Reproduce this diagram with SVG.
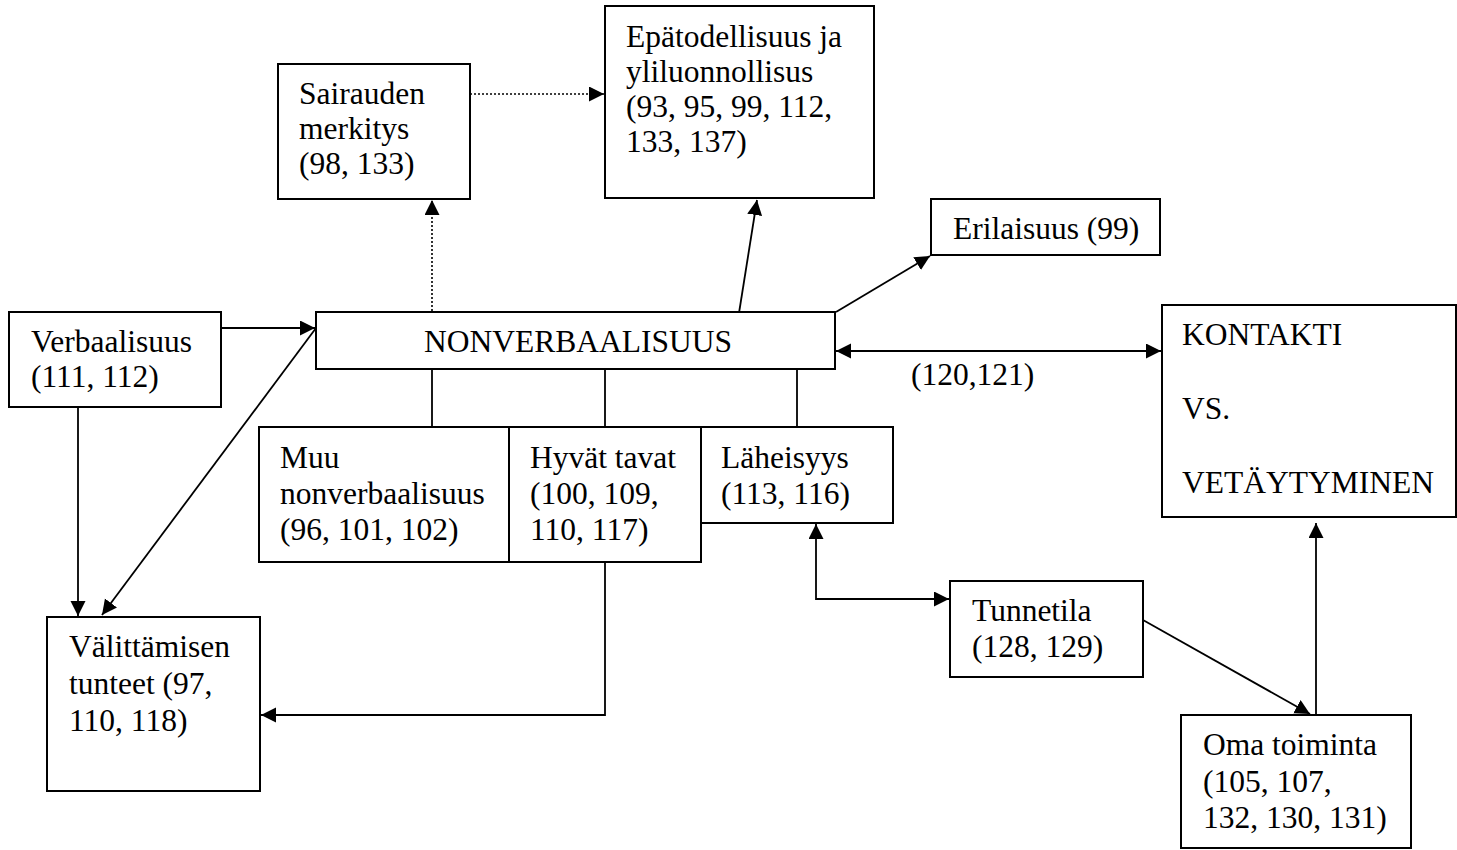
<svg xmlns="http://www.w3.org/2000/svg" width="1457" height="850" viewBox="0 0 1457 850">
  <style>
    .box { fill: #fff; stroke: #000; stroke-width: 2; }
    .lbl { font-family: "Liberation Serif", "Times New Roman", serif; font-size: 31.5px; fill: #000; }
    .ln { fill: none; stroke: #000; stroke-width: 1.8; }
    .dot { fill: none; stroke: #000; stroke-width: 1.6; stroke-dasharray: 2 2; }
  </style>
  <defs>
    <marker id="ah" markerUnits="userSpaceOnUse" markerWidth="16" markerHeight="16" refX="15" refY="7.5" orient="auto-start-reverse">
      <path d="M0,0 L15,7.5 L0,15 Z" fill="#000"/>
    </marker>
  </defs>
  <rect width="1457" height="850" fill="#fff"/>

  <!-- connectors -->
  <g id="connectors">
    <line class="dot" x1="470" y1="94" x2="604" y2="94" marker-end="url(#ah)"/>
    <line class="dot" x1="432" y1="311" x2="432" y2="200" marker-end="url(#ah)"/>
    <line class="ln" x1="739" y1="313" x2="757" y2="200" marker-end="url(#ah)"/>
    <line class="ln" x1="836" y1="312" x2="930" y2="256" marker-end="url(#ah)"/>
    <line class="ln" x1="836" y1="351" x2="1161" y2="351" marker-start="url(#ah)" marker-end="url(#ah)"/>
    <line class="ln" x1="221" y1="328" x2="315" y2="328" marker-end="url(#ah)"/>
    <line class="ln" x1="78" y1="407" x2="78" y2="616" marker-end="url(#ah)"/>
    <line class="ln" x1="316" y1="328" x2="102" y2="615" marker-end="url(#ah)"/>
    <line class="ln" x1="432" y1="369" x2="432" y2="427"/>
    <line class="ln" x1="605" y1="369" x2="605" y2="427"/>
    <line class="ln" x1="797" y1="369" x2="797" y2="427"/>
    <polyline class="ln" points="605,562 605,715 261,715" marker-end="url(#ah)"/>
    <polyline class="ln" points="816,524 816,599 949,599" marker-start="url(#ah)" marker-end="url(#ah)"/>
    <line class="ln" x1="1143" y1="620" x2="1310" y2="714" marker-end="url(#ah)"/>
    <line class="ln" x1="1316" y1="715" x2="1316" y2="523" marker-end="url(#ah)"/>
    <text class="lbl" x="911" y="385">(120,121)</text>
  </g>

  <g id="sairauden">
    <rect class="box" x="278" y="64" width="192" height="135"/>
    <text class="lbl" x="299" y="104">Sairauden</text>
    <text class="lbl" x="299" y="139">merkitys</text>
    <text class="lbl" x="299" y="174">(98, 133)</text>
  </g>

  <g id="epatodellisuus">
    <rect class="box" x="605" y="6" width="269" height="192"/>
    <text class="lbl" x="626" y="47">Epätodellisuus ja</text>
    <text class="lbl" x="626" y="82">yliluonnollisus</text>
    <text class="lbl" x="626" y="117">(93, 95, 99, 112,</text>
    <text class="lbl" x="626" y="152">133, 137)</text>
  </g>

  <g id="erilaisuus">
    <rect class="box" x="931" y="199" width="229" height="56"/>
    <text class="lbl" x="953" y="239">Erilaisuus (99)</text>
  </g>

  <g id="nonverbaalisuus">
    <rect class="box" x="316" y="312" width="519" height="57"/>
    <text class="lbl" x="578" y="352" text-anchor="middle">NONVERBAALISUUS</text>
  </g>

  <g id="kontakti">
    <rect class="box" x="1162" y="305" width="294" height="212"/>
    <text class="lbl" x="1182" y="345">KONTAKTI</text>
    <text class="lbl" x="1182" y="419">VS.</text>
    <text class="lbl" x="1182" y="493">VETÄYTYMINEN</text>
  </g>

  <g id="verbaalisuus">
    <rect class="box" x="9" y="312" width="212" height="95"/>
    <text class="lbl" x="31" y="352">Verbaalisuus</text>
    <text class="lbl" x="31" y="387">(111, 112)</text>
  </g>

  <g id="muu">
    <rect class="box" x="259" y="427" width="250" height="135"/>
    <text class="lbl" x="280" y="468">Muu</text>
    <text class="lbl" x="280" y="504">nonverbaalisuus</text>
    <text class="lbl" x="280" y="540">(96, 101, 102)</text>
  </g>

  <g id="hyvat">
    <rect class="box" x="509" y="427" width="192" height="135"/>
    <text class="lbl" x="530" y="468">Hyvät tavat</text>
    <text class="lbl" x="530" y="504">(100, 109,</text>
    <text class="lbl" x="530" y="540">110, 117)</text>
  </g>

  <g id="laheisyys">
    <rect class="box" x="701" y="427" width="192" height="96"/>
    <text class="lbl" x="721" y="468">Läheisyys</text>
    <text class="lbl" x="721" y="504">(113, 116)</text>
  </g>

  <g id="valittamisen">
    <rect class="box" x="47" y="617" width="213" height="174"/>
    <text class="lbl" x="69" y="657">Välittämisen</text>
    <text class="lbl" x="69" y="694">tunteet (97,</text>
    <text class="lbl" x="69" y="731">110, 118)</text>
  </g>

  <g id="tunnetila">
    <rect class="box" x="950" y="581" width="193" height="96"/>
    <text class="lbl" x="972" y="621">Tunnetila</text>
    <text class="lbl" x="972" y="657">(128, 129)</text>
  </g>

  <g id="oma">
    <rect class="box" x="1181" y="715" width="230" height="133"/>
    <text class="lbl" x="1203" y="755">Oma toiminta</text>
    <text class="lbl" x="1203" y="792">(105, 107,</text>
    <text class="lbl" x="1203" y="828">132, 130, 131)</text>
  </g>
</svg>
